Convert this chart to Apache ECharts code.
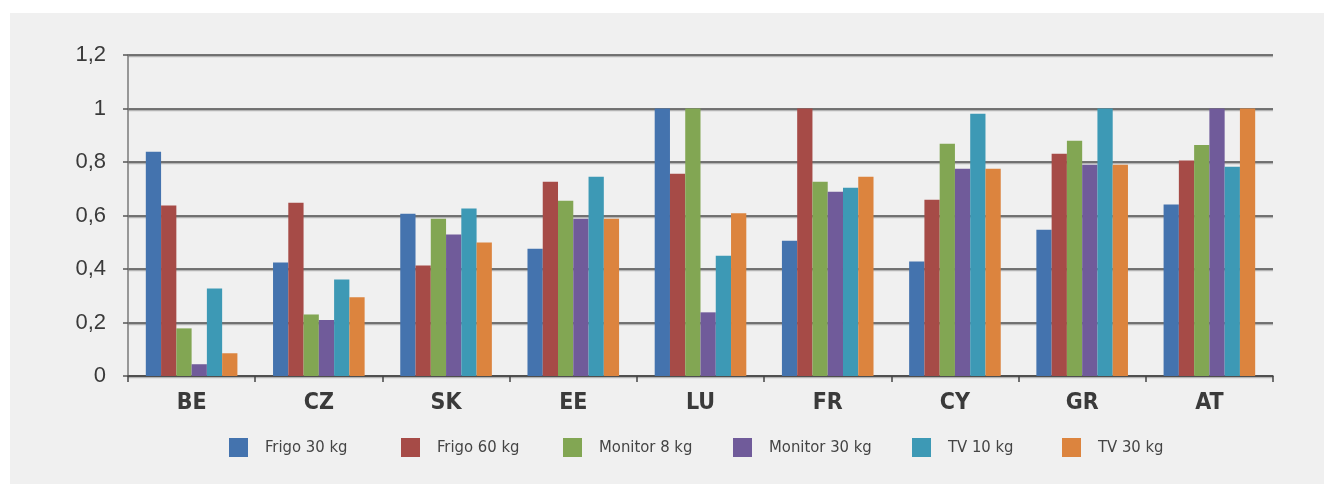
<!DOCTYPE html>
<html>
<head>
<meta charset="utf-8">
<script src="https://cdn.jsdelivr.net/npm/echarts@6/dist/echarts.min.js"></script>
<style>
  html, body { margin: 0; padding: 0; background: #ffffff; }
  #chart { width: 1324px; height: 484px; }
</style>
</head>
<body>
<div id="chart"></div>
<script>
// Countries on the category axis
const countries = ['BE', 'CZ', 'SK', 'EE', 'LU', 'FR', 'CY', 'GR', 'AT'];

// Relative values per product type and country
const frigo30   = [0.838, 0.424, 0.607, 0.476, 1.000, 0.506, 0.428, 0.547, 0.641];
const frigo60   = [0.637, 0.648, 0.413, 0.726, 0.756, 1.000, 0.659, 0.831, 0.806];
const monitor8  = [0.178, 0.230, 0.588, 0.655, 1.000, 0.726, 0.868, 0.879, 0.864];
const monitor30 = [0.044, 0.209, 0.529, 0.588, 0.238, 0.689, 0.775, 0.790, 1.000];
const tv10      = [0.327, 0.361, 0.626, 0.745, 0.450, 0.704, 0.980, 1.000, 0.782];
const tv30      = [0.085, 0.294, 0.499, 0.588, 0.608, 0.745, 0.775, 0.790, 1.000];

const seriesNames = ['Frigo 30 kg', 'Frigo 60 kg', 'Monitor 8 kg', 'Monitor 30 kg', 'TV 10 kg', 'TV 30 kg'];
const seriesData  = [frigo30, frigo60, monitor8, monitor30, tv10, tv30];
const colors = ['#4473ae', '#a64b47', '#82a653', '#705b9a', '#3d99b5', '#dc843e'];

// Value axis tick labels (decimal comma)
const yTickLabels = ['0', '0,2', '0,4', '0,6', '0,8', '1', '1,2'];

// Left edge of each legend entry
const legendLefts = [229, 401, 563, 733, 912, 1062];

const condensed = '"Liberation Sans Narrow", "DejaVu Sans Condensed", sans-serif';

const chart = echarts.init(document.getElementById('chart'), null, { renderer: 'canvas' });

const legends = seriesNames.map((name, i) => ({
  data: [name],
  left: legendLefts[i],
  top: 438,
  padding: 0,
  orient: 'horizontal',
  itemWidth: 19,
  itemHeight: 19,
  itemGap: 0,
  icon: 'rect',
  selectedMode: false,
  textStyle: {
    fontFamily: condensed,
    fontSize: 16.5,
    color: '#444444',
    padding: [0, 0, 0, 12]
  }
}));

const option = {
  backgroundColor: '#ffffff',
  color: colors,
  animation: false,
  graphic: [{
    type: 'rect',
    z: -10,
    silent: true,
    shape: { x: 10, y: 13, width: 1314, height: 471 },
    style: { fill: '#f0f0f0' }
  }],
  legend: legends,
  grid: { left: 128, right: 51, top: 55, bottom: 108, containLabel: false },
  xAxis: {
    type: 'category',
    data: countries,
    axisLine: { lineStyle: { color: '#444444', width: 1.5 } },
    axisTick: { show: true, length: 6, lineStyle: { color: '#444444', width: 1.5 } },
    axisLabel: {
      margin: 16,
      fontFamily: condensed,
      fontWeight: 'bold',
      fontSize: 23,
      color: '#3a3a3a'
    },
    splitLine: { show: false }
  },
  yAxis: {
    type: 'value',
    min: 0,
    max: 1.2,
    interval: 0.2,
    axisLine: { show: true, lineStyle: { color: '#7a7a7a', width: 1.5 } },
    axisTick: { show: true, length: 5, lineStyle: { color: '#555555', width: 1.5 } },
    axisLabel: {
      margin: 22,
      fontFamily: '"Liberation Sans", Arial, sans-serif',
      fontSize: 22,
      color: '#3a3a3a',
      formatter: (v) => yTickLabels[Math.round(v / 0.2)]
    },
    splitLine: {
      show: true,
      lineStyle: {
        color: '#4a4a4a',
        width: 1.5,
        shadowColor: 'rgba(0,0,0,0.25)',
        shadowOffsetY: 1.5,
        shadowBlur: 0
      }
    }
  },
  series: seriesNames.map((name, i) => ({
    name: name,
    type: 'bar',
    data: seriesData[i],
    barGap: '0%',
    barCategoryGap: '28%',
    itemStyle: { color: colors[i] }
  }))
};

chart.setOption(option);
</script>
</body>
</html>
